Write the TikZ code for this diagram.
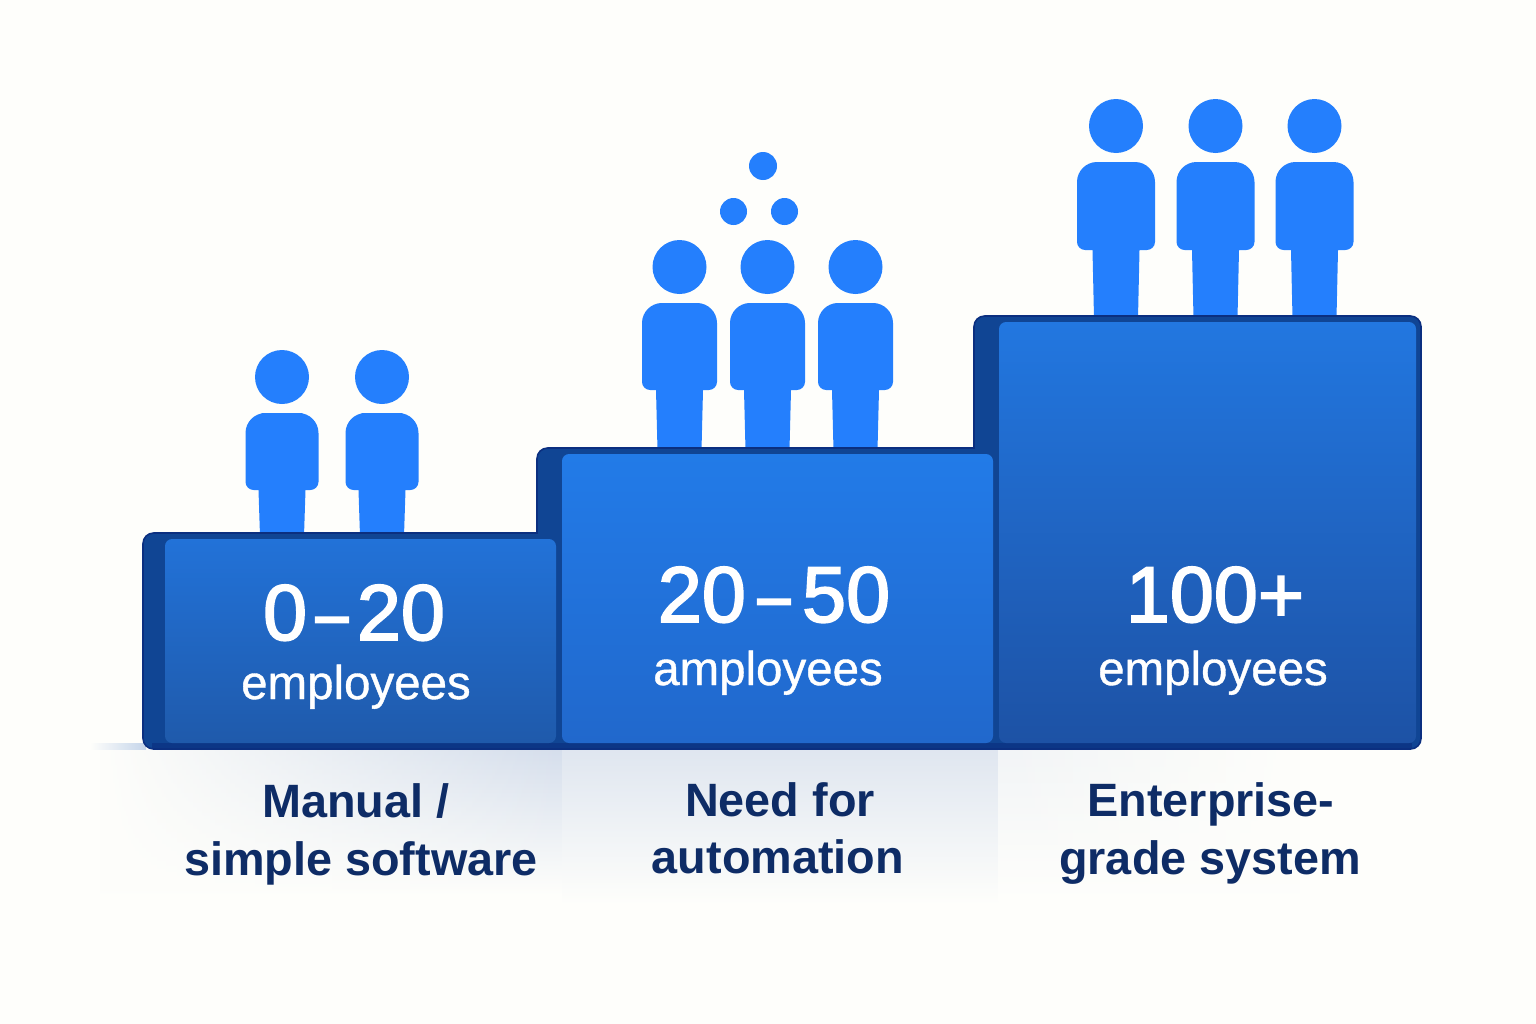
\documentclass[tikz,border=0pt]{standalone}
\usepackage{graphicx}
\usepackage{fontspec}
\setmainfont{Liberation Sans}
\newfontfamily\heavyFont[FakeBold=2.2]{Liberation Sans}
\newfontfamily\mediumFont[FakeBold=0.8]{Liberation Sans}
\usepackage{tikz}
\usetikzlibrary{positioning,fadings}
\usepackage{xcolor}
\definecolor{pageBg}{HTML}{FEFEFB}
\definecolor{personBlue}{HTML}{247FFD}
\definecolor{blockDark}{HTML}{104594}
\definecolor{blockEdge}{HTML}{0B2F80}
\definecolor{labelNavy}{HTML}{0E2C66}
\definecolor{floorTint}{HTML}{D5DEEC}
\definecolor{wispBlue}{HTML}{C5D5EA}
\definecolor{faceLowTop}{HTML}{2272D8}
\definecolor{faceLowEnd}{HTML}{1F5AAB}
\definecolor{faceMidTop}{HTML}{227BE8}
\definecolor{faceMidEnd}{HTML}{2168CC}
\definecolor{faceTopTop}{HTML}{2277E0}
\definecolor{faceTopEnd}{HTML}{1D52A5}

\newcommand{\person}[5]{%
    \fill[personBlue] (#1, #2) circle (27);
    \fill[personBlue, rounded corners=5.7pt] (#1, #2+36) -- (#1+#3, #2+36) [rounded corners=2.3pt] -- (#1+#3, #2+#4) [sharp corners] -- (#1+23.5, #2+#4) -- (#1+22, #2+#4+#5) -- (#1-22, #2+#4+#5) -- (#1-23.5, #2+#4) [rounded corners=2.3pt] -- (#1-#3, #2+#4) [rounded corners=5.7pt] -- (#1-#3, #2+36) -- cycle;
}
\newcommand{\shortDash}[1]{\kern#1\scalebox{0.75}[1]{–}\kern#1}

\begin{document}
\begin{tikzpicture}[
    x=0.01cm, y=-0.01cm,
    backBlock/.style={fill=blockDark, rounded corners=3pt},
    frontBlock/.style={rounded corners=2pt},
    bigNum/.style={text=white, font=\fontsize{22.5}{24}\heavyFont, anchor=base, inner sep=0pt},
    smallWord/.style={text=white, font=\fontsize{13.5}{14}\mediumFont, anchor=base, inner sep=0pt},
    floorLabel/.style={text=labelNavy, font=\fontsize{13.3}{14}\bfseries\selectfont, anchor=base, inner sep=0pt}
]
    \useasboundingbox[fill=pageBg] (0, 0) rectangle (1536, 1024);

    % floor tint under the steps
    \shade[top color=floorTint, middle color=floorTint!22!pageBg, bottom color=pageBg, path fading=west] (100, 749) rectangle (562, 895);
    \shade[top color=floorTint!75!pageBg, middle color=floorTint!22!pageBg, bottom color=pageBg] (562, 749) rectangle (998, 905);
    \shade[top color=floorTint!30!pageBg, bottom color=pageBg, path fading=east] (998, 749) rectangle (1300, 900);
    \shade[left color=pageBg, right color=wispBlue] (90, 743) rectangle (146, 749);

    % people
    \foreach \px in {282, 382} { \person{\px}{377}{36.5}{113}{46} }
    \foreach \px in {679.5, 767.5, 855.5} { \person{\px}{267}{37.5}{123}{60} }
    \foreach \px in {1116, 1215.5, 1314.5} { \person{\px}{126}{39}{124}{68} }

    % dots over the middle group
    \fill[personBlue] (763, 166) circle (14);
    \fill[personBlue] (733.5, 211.5) circle (13.5);
    \fill[personBlue] (784.5, 211.5) circle (13.5);

    % blocks
    \fill[backBlock] (974, 316) rectangle (1421, 749);
    \fill[backBlock] (537, 448) rectangle (1000, 749);
    \fill[backBlock] (143, 533) rectangle (559, 749);
    \fill[blockEdge!70!blockDark] (152, 743) rectangle (1412, 749);
    \draw[blockEdge, line width=0.45pt, rounded corners=3pt] (143, 640) -- (143, 533) [sharp corners] -- (537, 533) [rounded corners=3pt] -- (537, 448) [sharp corners] -- (974, 448) [rounded corners=3pt] -- (974, 316) -- (1421, 316) -- (1421, 749) -- (143, 749) -- cycle;
    \shade[frontBlock, top color=faceLowTop, bottom color=faceLowEnd] (165, 539) rectangle (556, 743);
    \shade[frontBlock, top color=faceMidTop, bottom color=faceMidEnd] (562, 454) rectangle (993, 743);
    \shade[frontBlock, top color=faceTopTop, bottom color=faceTopEnd] (999, 322) rectangle (1416, 743);

    \node[bigNum] (smallNum) at (354, 640) {0\shortDash{2.4pt}20};
    \node[smallWord] (smallText) at (356, 699) {employees};
    \node[bigNum] (midNum) at (774, 622) {20\shortDash{3.3pt}50};
    \node[smallWord] (midText) at (768, 685) {amployees};
    \node[bigNum] (bigNum) at (1215, 622) {100+};
    \node[smallWord] (bigText) at (1213, 685) {employees};

    \node[floorLabel] (manual) at (356, 817) {Manual /};
    \node[floorLabel] (simple) at (361, 875) {simple software};
    \node[floorLabel] (need) at (780, 816) {Need for};
    \node[floorLabel] (auto) at (778, 873) {automation};
    \node[floorLabel] (enter) at (1211, 816) {Enterprise-};
    \node[floorLabel] (grade) at (1210, 874) {grade system};
\end{tikzpicture}
\end{document}
